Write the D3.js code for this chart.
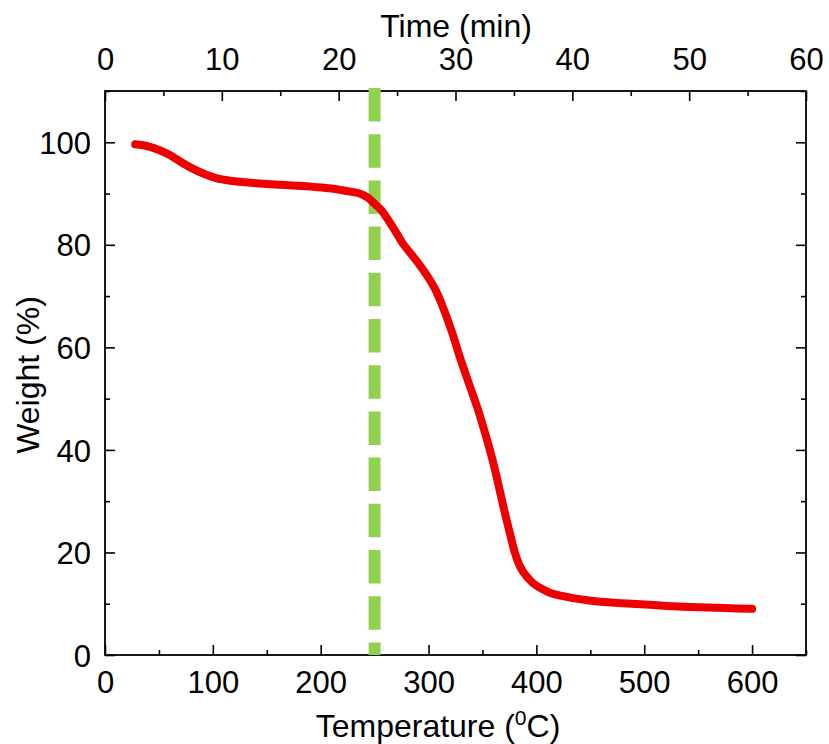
<!DOCTYPE html>
<html><head><meta charset="utf-8">
<script src="https://cdn.jsdelivr.net/npm/d3@7"></script>
<style>body{margin:0;background:#fff}svg{display:block}text{font-family:"Liberation Sans",Arial,sans-serif;fill:#000}</style>
</head><body><svg id="c" width="829" height="744"></svg>
<script>
const temperature = [28,40,50,60,70,80,91,103,116,130,147,170,193,210,224,236,243,250,256,264,270,277,285,292,298,306,314,322,329,337,345,351,357,362,366,371,375.5,380,385,391,397,405,413,434,455,480,505,527,550,575,600];
const weight = [99.6,99.2,98.5,97.5,96.2,95.0,93.9,93.0,92.5,92.2,91.9,91.6,91.3,91.0,90.5,90.0,89.3,88.0,86.8,84.4,82.4,80.0,77.9,76.0,74.2,71.4,67.5,62.8,58.1,53.2,48.4,44.3,39.9,35.8,32.1,27.5,23.7,20.0,17.2,15.3,14.0,12.9,12.1,11.1,10.5,10.1,9.8,9.5,9.3,9.15,9.0];
const markerTemp = [250];
const xTicks = [0,100,200,300,400,500,600];
const timeTicks = [0,10,20,30,40,50,60];
const yTicks = [0,20,40,60,80,100];

const svg = d3.select("#c");
const L=105,R=806,T=91,B=655;
const x = d3.scaleLinear().domain([0,650]).range([L,R]);
const xt = d3.scaleLinear().domain([0,60]).range([L,R]);
const y = d3.scaleLinear().domain([0,110]).range([B,T]);
const TICKFONT="31px", TITLEFONT="32px";

function styleAxis(g){
  g.select(".domain").remove();
  g.selectAll("line").attr("stroke","#000").attr("stroke-width",1.6);
}
// bottom
const gb = svg.append("g").attr("transform",`translate(0,${B})`);
gb.call(d3.axisBottom(x).tickValues(d3.range(0,651,50)).tickSize(-5).tickFormat(""));
gb.call(g=>g.selectAll(".tick").filter(d=>d%100===0).select("line").attr("y2",-10));
styleAxis(gb);
gb.selectAll(".tick").filter(d=>xTicks.includes(d)).append("text").attr("y",38).attr("text-anchor","middle").text(d=>d).style("font-size",TICKFONT);
// top
const gt = svg.append("g").attr("transform",`translate(0,${T})`);
gt.call(d3.axisTop(xt).tickValues(d3.range(0,61,5)).tickSize(-5).tickFormat(""));
gt.call(g=>g.selectAll(".tick").filter(d=>d%10===0).select("line").attr("y2",10));
styleAxis(gt);
gt.selectAll(".tick").filter(d=>timeTicks.includes(d)).append("text").attr("y",-21).attr("text-anchor","middle").text(d=>d).style("font-size",TICKFONT);
// left
const gl = svg.append("g").attr("transform",`translate(${L},0)`);
gl.call(d3.axisLeft(y).tickValues(d3.range(0,111,10)).tickSize(-5).tickFormat(""));
gl.call(g=>g.selectAll(".tick").filter(d=>d%20===0).select("line").attr("x2",10));
styleAxis(gl);
gl.selectAll(".tick").filter(d=>yTicks.includes(d)).append("text").attr("x",-14).attr("dy","0.36em").attr("text-anchor","end").text(d=>d).style("font-size",TICKFONT);
// right
const gr = svg.append("g").attr("transform",`translate(${R},0)`);
gr.call(d3.axisRight(y).tickValues(d3.range(0,111,10)).tickSize(-5).tickFormat(""));
gr.call(g=>g.selectAll(".tick").filter(d=>d%20===0).select("line").attr("x2",-10));
styleAxis(gr);
// frame
svg.append("rect").attr("x",L).attr("y",T).attr("width",R-L).attr("height",B-T).attr("fill","none").attr("stroke","#000").attr("stroke-width",1.8);

// marker line
svg.selectAll(".mk").data(markerTemp).enter().append("line")
  .attr("x1",d=>x(d)).attr("x2",d=>x(d)).attr("y1",T-3).attr("y2",B)
  .attr("stroke","#92D050").attr("stroke-width",12).attr("stroke-dasharray","33.5,12.7");

// curve
const data = temperature.map((t,i)=>({t,w:weight[i]}));
svg.append("path").datum(data)
  .attr("d",d3.line().x(d=>x(d.t)).y(d=>y(d.w)).curve(d3.curveCatmullRom.alpha(0.5)))
  .attr("fill","none").attr("stroke","#EE0000").attr("stroke-width",8).attr("stroke-linecap","round").attr("stroke-linejoin","round");

// titles
svg.append("text").attr("x",456).attr("y",37).attr("text-anchor","middle").style("font-size",TITLEFONT).text("Time (min)");
const tt = svg.append("text").attr("x",438).attr("y",737).attr("text-anchor","middle").style("font-size",TITLEFONT);
tt.append("tspan").text("Temperature (");
tt.append("tspan").attr("dy",-12).style("font-size","21px").text("0");
tt.append("tspan").attr("dy",12).text("C)");
svg.append("text").attr("transform","translate(39,375) rotate(-90)").attr("text-anchor","middle").style("font-size",TITLEFONT).text("Weight (%)");
</script></body></html>
